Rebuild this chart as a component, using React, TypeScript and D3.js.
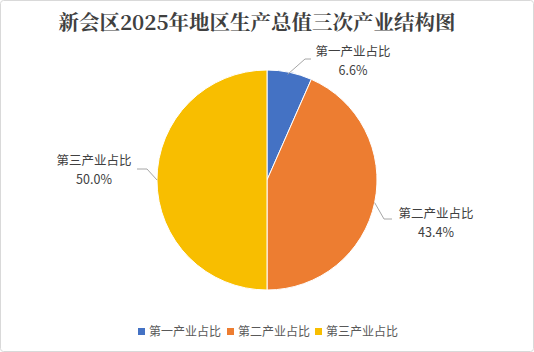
import React from "react";
import * as d3 from "d3";

const categories = ["第一产业占比", "第二产业占比", "第三产业占比"];
const values = [6.6, 43.4, 50.0];
const colors = ["#4472C4", "#ED7D31", "#F8BE00"];
const title = "新会区2025年地区生产总值三次产业结构图";

const W = 534, H = 352;
const cx = 267, cy = 180, R = 110;

export default function App() {
  const pie = d3.pie<number>().sort(null).value((d) => d)(values);
  const arc = d3.arc<d3.PieArcDatum<number>>().innerRadius(0).outerRadius(R);
  const labelPos = [
    { x: 353, y: 56 },
    { x: 436, y: 218 },
    { x: 94, y: 165 },
  ];
  const leader = (i: number, d: d3.PieArcDatum<number>) => {
    const a = (d.startAngle + d.endAngle) / 2;
    const px = cx + R * Math.sin(a);
    const py = cy - R * Math.cos(a);
    if (i === 0) return `M${px - 2},${py + 2}L305,59L311,59`;
    if (i === 1) return `M${px},${py}L384,219L392,219`;
    return `M${px},${py}L147,169L137,169`;
  };
  const legendX = [138, 227, 315];
  return (
    <svg width={W} height={H} style={{ position: "absolute", left: 0, top: 0 }}>
      <rect x={0.5} y={0.5} width={W - 1} height={H - 1} rx={3} fill="#fff" stroke="#D9D9D9" />
      <text x={257} y={30} textAnchor="middle" fontFamily="'Noto Serif CJK SC','Noto Sans CJK SC',serif" fontWeight="bold" fontSize={20.5} fill="#404040">{title}</text>
      <g>
        {pie.map((d, i) => (
          <path key={i} d={arc(d) || ""} transform={`translate(${cx},${cy})`} fill={colors[i]} stroke="#fff" strokeWidth={1} />
        ))}
      </g>
      <g>
        {pie.map((d, i) => (
          <path key={i} d={leader(i, d)} fill="none" stroke="#A6A6A6" strokeWidth={1} />
        ))}
      </g>
      <g fontFamily="'Noto Sans CJK SC', sans-serif" fontSize={12.5} fill="#404040">
        {pie.map((d, i) => (
          <text key={i} x={labelPos[i].x} y={labelPos[i].y} textAnchor="middle">
            <tspan x={labelPos[i].x}>{categories[i]}</tspan>
            <tspan x={labelPos[i].x} dy={18.5}>{values[i].toFixed(1)}%</tspan>
          </text>
        ))}
      </g>
      <g fontFamily="'Noto Sans CJK SC', sans-serif" fontSize={12} fill="#595959">
        {categories.map((c, i) => (
          <g key={i}>
            <rect x={legendX[i]} y={328} width={7} height={7} fill={colors[i]} />
            <text x={legendX[i] + 11} y={336}>{c}</text>
          </g>
        ))}
      </g>
    </svg>
  );
}
